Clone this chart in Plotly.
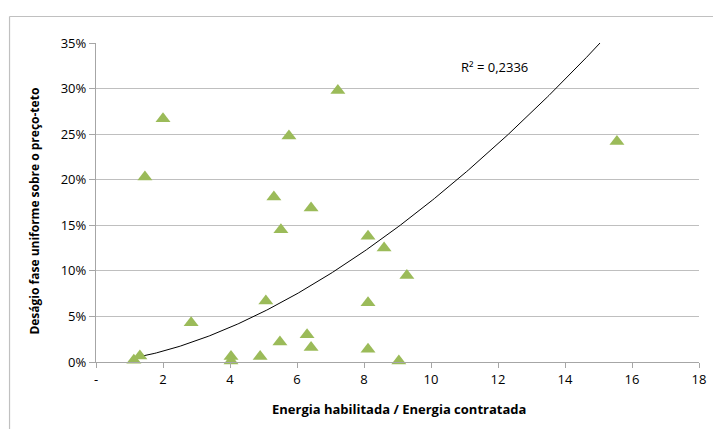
import numpy as np
import plotly.graph_objects as go

# Energia habilitada / Energia contratada
ratio = [1.13, 1.31, 1.46, 2.00, 2.84, 4.03, 4.03, 4.90, 5.07, 5.31, 5.49, 5.52,
         5.76, 6.30, 6.42, 6.42, 7.22, 8.12, 8.12, 8.12, 8.60, 9.04, 9.28, 15.55]
# Deságio fase uniforme sobre o preço-teto (fraction)
desagio = [0.002, 0.0066, 0.203, 0.267, 0.043, 0.006, 0.001, 0.006, 0.067, 0.181,
           0.022, 0.145, 0.248, 0.030, 0.016, 0.169, 0.298, 0.138, 0.065, 0.014,
           0.125, 0.001, 0.095, 0.242]

# Power trendline y = a * x^b
trend_a = 0.00371
trend_b = 1.677
r2_label = "R² = 0,2336"

x_tickvals = [0, 2, 4, 6, 8, 10, 12, 14, 16, 18]
x_ticktext = ["-", "2", "4", "6", "8", "10", "12", "14", "16", "18"]
y_tickvals = [0, 0.05, 0.10, 0.15, 0.20, 0.25, 0.30, 0.35]

tx = np.linspace(min(ratio), max(ratio), 300)
ty = trend_a * tx ** trend_b

font_family = "Open Sans, Liberation Sans, sans-serif"

fig = go.Figure()
fig.add_trace(go.Scatter(
    x=tx, y=ty, mode="lines",
    line=dict(color="black", width=1),
    hoverinfo="skip", showlegend=False,
))
fig.add_trace(go.Scatter(
    x=ratio, y=desagio, mode="markers",
    marker=dict(symbol="triangle-up", size=13, color="#9BBB59", line=dict(width=0)),
    cliponaxis=False, showlegend=False,
))

fig.add_annotation(
    x=10.85, y=0.324, xref="x", yref="y", text=r2_label, showarrow=False,
    xanchor="left", yanchor="middle", font=dict(size=13, color="black", family=font_family),
)

# axis titles
fig.add_annotation(
    x=0.503, y=-0.148, xref="paper", yref="paper", showarrow=False,
    text="<b>Energia habilitada / Energia contratada</b>",
    xanchor="center", yanchor="middle", font=dict(size=13, color="black"),
)
fig.add_annotation(
    x=-0.102, y=0.473, xref="paper", yref="paper", showarrow=False, textangle=-90,
    text="<b>Deságio fase uniforme sobre o preço-teto</b>",
    xanchor="center", yanchor="middle", font=dict(size=12, color="black"),
)

# chart frame (left and top edges)
fig.add_shape(type="line", xref="paper", yref="paper", x0=-0.1434, x1=-0.1434,
              y0=-0.22, y1=1.083, line=dict(color="#C0C0C0", width=1.2))
fig.add_shape(type="line", xref="paper", yref="paper", x0=-0.1434, x1=1.03,
              y0=1.083, y1=1.083, line=dict(color="#C0C0C0", width=1.2))

fig.update_layout(
    width=713, height=429,
    margin=dict(l=96, r=14, t=43, b=67),
    paper_bgcolor="white", plot_bgcolor="white",
    font=dict(family=font_family, size=13, color="black"),
    xaxis=dict(
        range=[0, 18], tickvals=x_tickvals, ticktext=x_ticktext,
        showgrid=False, zeroline=False, automargin=False,
        showline=True, linecolor="#A6A6A6", linewidth=1.3,
        ticks="outside", ticklen=5, tickcolor="#A6A6A6",
        tickfont=dict(size=13),
    ),
    yaxis=dict(
        range=[0, 0.35], tickvals=y_tickvals, tickformat=".0%",
        showgrid=True, gridcolor="#BFBFBF", gridwidth=1.3, automargin=False,
        zeroline=False, showline=True, linecolor="#A6A6A6", linewidth=1.3,
        ticks="outside", ticklen=6, tickcolor="#A6A6A6",
        tickfont=dict(size=13),
    ),
)

fig.write_html("out.html")
